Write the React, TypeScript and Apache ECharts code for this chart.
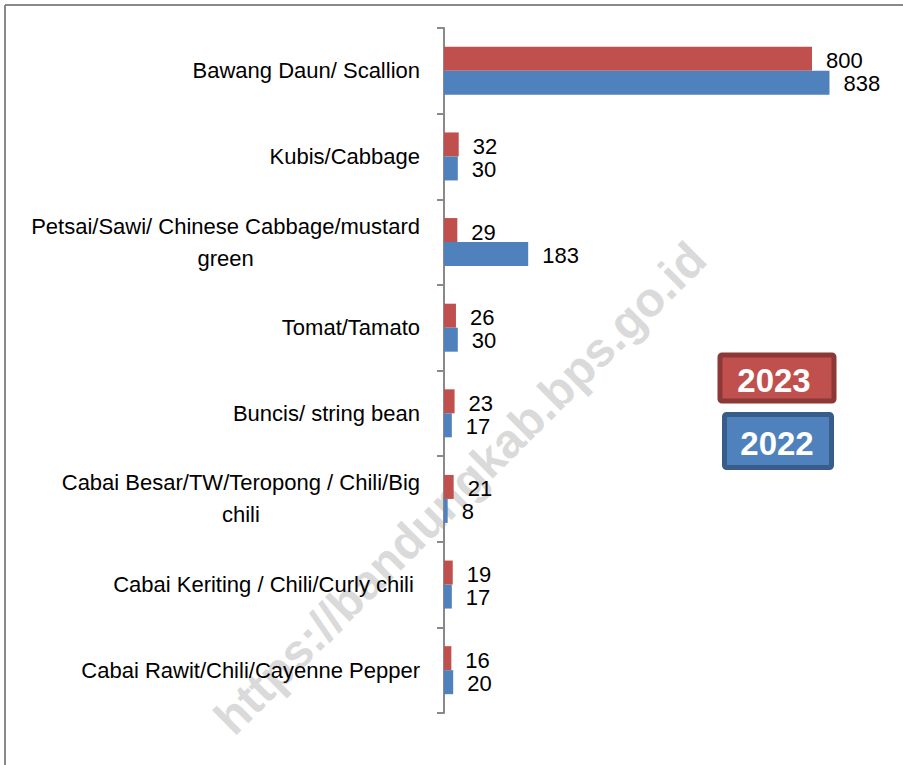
import React, { useEffect, useRef } from "react";
import * as echarts from "echarts";

const categories = [
  "Bawang Daun/ Scallion",
  "Kubis/Cabbage",
  "Petsai/Sawi/ Chinese Cabbage/mustard\ngreen",
  "Tomat/Tamato",
  "Buncis/ string bean",
  "Cabai Besar/TW/Teropong / Chili/Big\nchili",
  "Cabai Keriting / Chili/Curly chili ",
  "Cabai Rawit/Chili/Cayenne Pepper",
];
const seriesNames = ["2023", "2022"];
const values2023 = [800, 32, 29, 26, 23, 21, 19, 16];
const values2022 = [838, 30, 183, 30, 17, 8, 17, 20];
const watermark = "https://bandungkab.bps.go.id";

const FONT = "Liberation Sans";

export default function App() {
  const ref = useRef<HTMLDivElement>(null);
  useEffect(() => {
    document.body.style.margin = "0";
    const chart = echarts.init(ref.current!, null, { renderer: "svg" });
    const labelStyle = {
      show: true,
      position: "right",
      distance: 14,
      color: "#000",
      fontSize: 22,
      fontFamily: FONT,
    };
    chart.setOption({
      animation: false,
      backgroundColor: "#fff",
      grid: { left: 444, top: 28, width: 414, height: 685, containLabel: false },
      xAxis: {
        type: "value",
        min: 0,
        max: 900,
        show: false,
        splitLine: { show: false },
      },
      yAxis: {
        type: "category",
        inverse: true,
        data: categories,
        axisLine: { show: true, lineStyle: { color: "#898989", width: 2 } },
        axisTick: { show: true, length: 7, lineStyle: { color: "#898989", width: 2 } },
        axisLabel: {
          margin: 24,
          formatter: (v: string) =>
            v
              .split("\n")
              .map((l) => `{c|${l}}`)
              .join("\n"),
          rich: {
            c: {
              align: "center",
              fontSize: 22,
              lineHeight: 32,
              fontFamily: FONT,
              color: "#000",
            },
          },
        },
      },
      series: [
        {
          name: seriesNames[0],
          type: "bar",
          data: values2023,
          barWidth: 24,
          barGap: "0%",
          itemStyle: { color: "#C0504D" },
          label: { ...labelStyle, offset: [0, 2] },
        },
        {
          name: seriesNames[1],
          type: "bar",
          data: values2022,
          barWidth: 24,
          barGap: "0%",
          itemStyle: { color: "#4F81BD" },
          label: { ...labelStyle, offset: [0, 1] },
        },
      ],
      graphic: [
        {
          type: "text",
          x: 460,
          y: 488,
          rotation: Math.PI / 4,
          z: -10,
          style: {
            text: watermark,
            x: 0,
            y: 0,
            align: "center",
            verticalAlign: "middle",
            fill: "#dadada",
            font: `bold 48px ${FONT}`,
          },
        },
        {
          type: "line",
          shape: { x1: 5, y1: 5, x2: 903, y2: 5 },
          style: { stroke: "#898989", lineWidth: 2 },
        },
        {
          type: "line",
          shape: { x1: 5, y1: 5, x2: 5, y2: 765 },
          style: { stroke: "#898989", lineWidth: 2 },
        },
        {
          type: "rect",
          shape: { x: 720, y: 355, width: 114, height: 46, r: 2 },
          style: { fill: "#C0504D", stroke: "#8C3836", lineWidth: 5 },
        },
        {
          type: "text",
          x: 774,
          y: 380,
          style: {
            text: seriesNames[0],
            align: "center",
            verticalAlign: "middle",
            fill: "#fff",
            font: `bold 33px ${FONT}`,
          },
        },
        {
          type: "rect",
          shape: { x: 724.5, y: 414.5, width: 107, height: 53, r: 2 },
          style: { fill: "#4F81BD", stroke: "#385D8A", lineWidth: 5 },
        },
        {
          type: "text",
          x: 777,
          y: 443,
          style: {
            text: seriesNames[1],
            align: "center",
            verticalAlign: "middle",
            fill: "#fff",
            font: `bold 33px ${FONT}`,
          },
        },
      ],
    });
    return () => chart.dispose();
  }, []);
  return <div ref={ref} style={{ width: 903, height: 765 }} />;
}
